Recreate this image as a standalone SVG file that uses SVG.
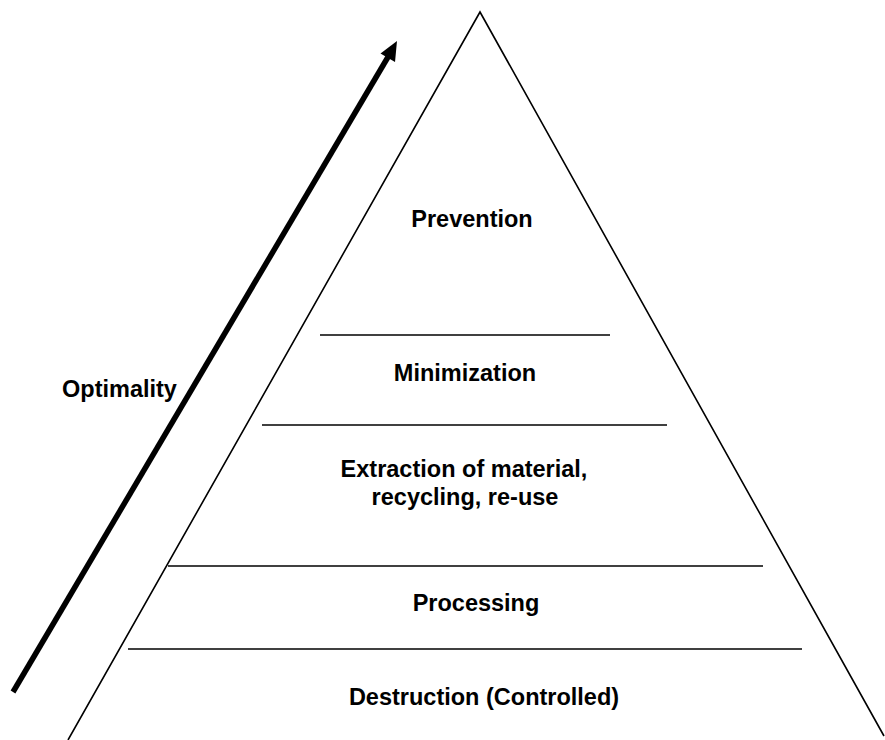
<svg xmlns="http://www.w3.org/2000/svg" width="885" height="740" viewBox="0 0 885 740">
<style>
.lbl{font-family:"Liberation Sans",Arial,sans-serif;font-weight:bold;font-size:23.5px;fill:#000;text-anchor:middle}
.ln{stroke:#000;stroke-width:1.6;fill:none}
</style>
<rect width="885" height="740" fill="#fff"/>
<g id="pyramid">
<polyline class="ln" points="68,740 480,12 884,736" stroke-width="1.4"/>
</g>
<g id="connectors">
<line class="ln" x1="320" y1="335" x2="610" y2="335"/>
<line class="ln" x1="262" y1="425" x2="667" y2="425"/>
<line class="ln" x1="168" y1="566" x2="763" y2="566"/>
<line class="ln" x1="128" y1="649" x2="802" y2="649"/>
<line x1="13" y1="692" x2="388" y2="57" stroke="#000" stroke-width="5.5"/>
<polygon points="397,41 380.5,53.5 395,62" fill="#000"/>
</g>
<g id="prevention"><text class="lbl" x="472" y="227">Prevention</text></g>
<g id="minimization"><text class="lbl" x="465" y="381">Minimization</text></g>
<g id="extraction"><text class="lbl" x="464" y="477">Extraction of material,</text><text class="lbl" x="465" y="505">recycling, re-use</text></g>
<g id="processing"><text class="lbl" x="476" y="611">Processing</text></g>
<g id="destruction"><text class="lbl" x="484" y="705">Destruction (Controlled)</text></g>
<g id="optimality"><text class="lbl" x="119.5" y="397">Optimality</text></g>
</svg>
